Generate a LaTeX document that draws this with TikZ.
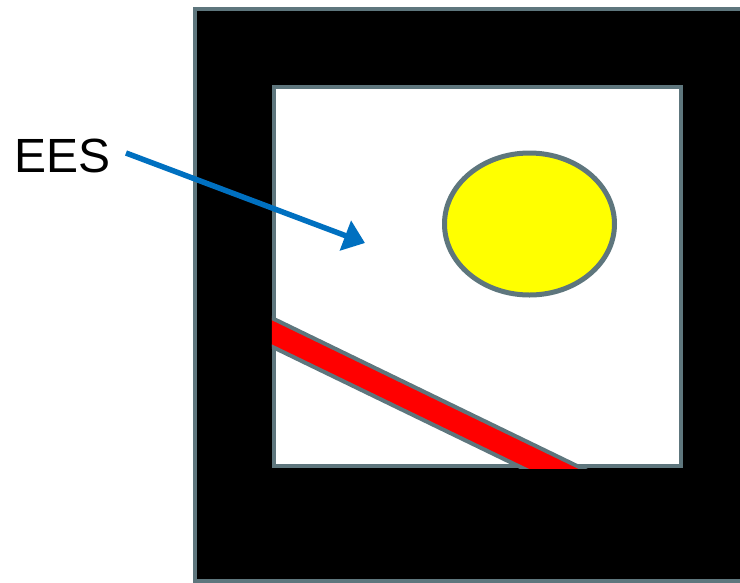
\documentclass[tikz,border=0pt]{standalone}
\usepackage{fontspec}
\setmainfont{Liberation Sans}
\usetikzlibrary{arrows.meta}
\definecolor{edgegray}{RGB}{94,118,125}
\definecolor{arrowblue}{RGB}{0,112,192}
\definecolor{sunyellow}{RGB}{255,255,0}
\definecolor{bandred}{RGB}{255,0,0}
\tikzset{
  frame/.style={draw=edgegray, line width=4.5pt, line join=miter},
  pointer/.style={draw=arrowblue, line width=5.5pt, -{Triangle[length=21pt,width=31pt]}},
  lbl/.style={font=\fontsize{48}{56}\selectfont, inner sep=0pt, anchor=base west},
}
\begin{document}
\begin{tikzpicture}[x=1pt,y=-1pt]
\useasboundingbox (0,0) rectangle (740,582);
\clip (0,0) rectangle (740,582);
% outer black frame
\path[frame, fill=black] (195,9) rectangle (770,581);
% inner white window
\path[frame, fill=white] (274,87) rectangle (681,466);
% red band clipped to window
\begin{scope}
  \clip (271.75,84.75) rectangle (683.25,468.25);
  \path[draw=edgegray, line width=4pt, fill=bandred]
    (250,307.4) -- (700,525.6) -- (700,554) -- (250,336) -- cycle;
\end{scope}
% yellow ellipse
\path[draw=edgegray, line width=5pt, fill=sunyellow] (529.5,224) ellipse [x radius=85pt, y radius=71pt];
% label and arrow
\node[lbl] (ees) at (14,172) {EES};
\coordinate (start) at (126,153);
\coordinate (tip) at (365,243);
\draw[pointer] (start) -- (tip);
\end{tikzpicture}
\end{document}
